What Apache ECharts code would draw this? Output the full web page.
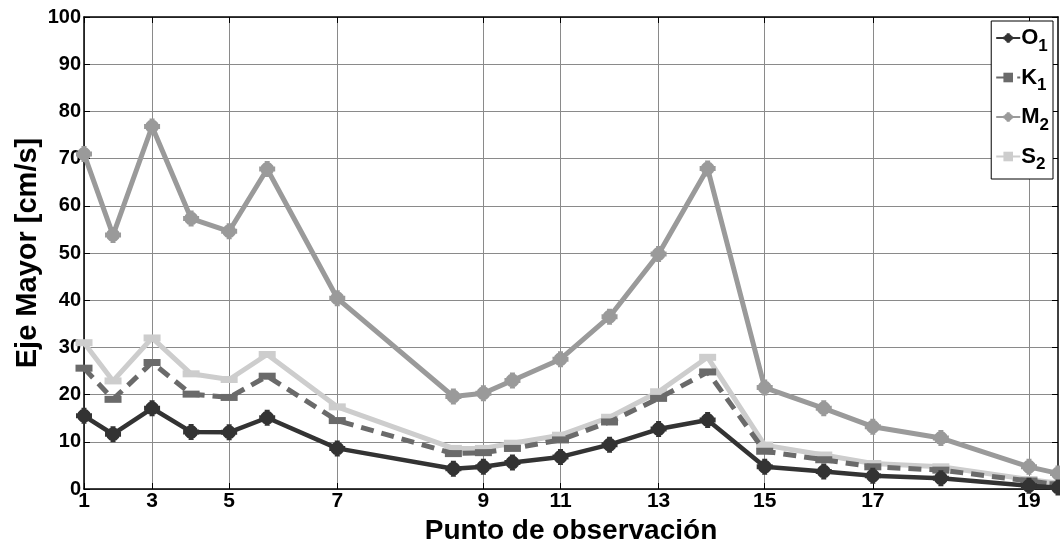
<!DOCTYPE html>
<html>
<head>
<meta charset="utf-8">
<script src="https://cdn.jsdelivr.net/npm/echarts@6/dist/echarts.min.js"></script>
<style>html,body{margin:0;padding:0;background:#fff}#c{width:1060px;height:542px}</style>
</head>
<body>
<div id="c"></div>
<script>
var distancia = [0, 2.9, 6.8, 10.7, 14.5, 18.3, 25.3, 36.9, 39.9, 42.8, 47.6, 52.5, 57.4, 62.3, 68.0, 73.9, 78.8, 85.6, 94.4, 97.3];
var puntos = [1,2,3,4,5,6,7,8,9,10,11,12,13,14,15,16,17,18,19,20];
var etiquetasX = [1,3,5,7,9,11,13,15,17,19];
var ticksY = [0,10,20,30,40,50,60,70,80,90,100];

var O1 = [15.5, 11.6, 17.1, 12.1, 12.0, 15.1, 8.6, 4.3, 4.7, 5.6, 6.8, 9.4, 12.7, 14.6, 4.7, 3.7, 2.8, 2.3, 0.7, 0.3];
var K1 = [25.6, 19.0, 26.8, 20.1, 19.4, 23.9, 14.5, 7.5, 7.7, 8.6, 10.4, 14.2, 19.2, 24.8, 8.0, 6.2, 4.7, 4.0, 1.7, 0.9];
var M2 = [71.0, 53.8, 76.8, 57.3, 54.6, 67.8, 40.4, 19.6, 20.3, 23.0, 27.5, 36.5, 49.8, 67.9, 21.5, 17.1, 13.2, 10.8, 4.7, 3.3];
var S2 = [31.0, 22.9, 32.0, 24.4, 23.2, 28.5, 17.4, 8.6, 8.6, 9.7, 11.4, 15.2, 20.6, 27.9, 9.3, 7.2, 5.4, 4.7, 2.0, 1.2];

function pares(v){ return distancia.map(function(d,i){ return [d, v[i]]; }); }
var tickDist = etiquetasX.map(function(p){ return distancia[puntos.indexOf(p)]; });

var FONT = "'Liberation Sans', Arial, Helvetica, sans-serif";
var starPath = 'path://M-8,-2.5L-2.5,-2.5L-2.5,-8L2.5,-8L2.5,-2.5L8,-2.5L8,2.5L2.5,2.5L2.5,8L-2.5,8L-2.5,2.5L-8,2.5Z M0,-7L3.5,-6L6,-3.5L7,0L6,3.5L3.5,6L0,7L-3.5,6L-6,3.5L-7,0L-6,-3.5L-3.5,-6Z';

var chart = echarts.init(document.getElementById('c'), null, {renderer:'canvas'});
chart.setOption({
  animation: false,
  backgroundColor: '#fff',
  grid: {left: 84, right: 2, top: 17, bottom: 53, containLabel: false, outerBoundsMode: 'none'},
  legend: {
    orient: 'vertical', right: 7, top: 21,
    backgroundColor: '#fff', borderColor: '#000', borderWidth: 1,
    padding: [6, 4, 6, 4], itemGap: 12, itemWidth: 24, itemHeight: 12,
    data: ['O1','K1','M2','S2'],
    formatter: function(n){ return '{b|' + n.charAt(0) + '}{s|' + n.charAt(1) + '}'; },
    textStyle: {
      color: '#000', padding: [0,0,0,-4],
      rich: {
        b: {fontSize: 22, fontWeight: 'bold', fontFamily: FONT, color: '#000'},
        s: {fontSize: 17, fontWeight: 'bold', fontFamily: FONT, color: '#000', padding: [16,0,0,0]}
      }
    }
  },
  xAxis: [{
    type: 'value', min: distancia[0], max: distancia[distancia.length-1],
    name: 'Punto de observación', nameLocation: 'middle', nameGap: 21,
    nameTextStyle: {fontSize: 28, fontWeight: 'bold', fontFamily: FONT, color: '#000'},
    axisLine: {show: true, onZero: false, lineStyle: {color: '#000', width: 1.5}},
    axisTick: {show: true, inside: true, length: 6, customValues: tickDist, lineStyle: {color: '#000'}},
    axisLabel: {customValues: tickDist, margin: 2, fontSize: 21, fontWeight: 'bold', fontFamily: FONT, color: '#000',
      formatter: function(v){ var i = distancia.indexOf(v); return i >= 0 ? String(puntos[i]) : ''; }},
    splitLine: {show: true, lineStyle: {color: '#8a8a8a', width: 1}}
  }, {
    type: 'value', position: 'top', min: distancia[0], max: distancia[distancia.length-1],
    axisLine: {show: true, onZero: false, lineStyle: {color: '#000', width: 1.5}},
    axisTick: {show: true, inside: true, length: 6, customValues: tickDist, lineStyle: {color: '#000'}},
    axisLabel: {show: false}, splitLine: {show: false}
  }],
  yAxis: [{
    type: 'value', min: 0, max: 100, interval: 10,
    name: 'Eje Mayor [cm/s]', nameLocation: 'middle', nameGap: 42, nameMoveOverlap: false,
    nameTextStyle: {fontSize: 29, fontWeight: 'bold', fontFamily: FONT, color: '#000'},
    axisLine: {show: true, onZero: false, lineStyle: {color: '#000', width: 1.5}},
    axisTick: {show: true, inside: true, length: 6, lineStyle: {color: '#000'}},
    axisLabel: {margin: 3, fontSize: 20, fontWeight: 'bold', fontFamily: FONT, color: '#000'},
    splitLine: {show: true, lineStyle: {color: '#8a8a8a', width: 1}}
  }, {
    type: 'value', position: 'right', min: 0, max: 100, interval: 10,
    axisLine: {show: true, onZero: false, lineStyle: {color: '#000', width: 1.5}},
    axisTick: {show: true, inside: true, length: 6, lineStyle: {color: '#000'}},
    axisLabel: {show: false}, splitLine: {show: false}
  }],
  series: [
    {name: 'M2', type: 'line', data: pares(M2), z: 3, symbol: starPath, symbolSize: 16,
      itemStyle: {color: '#9a9a9a'}, lineStyle: {color: '#9a9a9a', width: 5}},
    {name: 'S2', type: 'line', data: pares(S2), z: 4, symbol: 'rect', symbolSize: [17, 7],
      itemStyle: {color: '#cdcdcd'}, lineStyle: {color: '#cdcdcd', width: 5}},
    {name: 'K1', type: 'line', data: pares(K1), z: 5, symbol: 'rect', symbolSize: [17, 7],
      itemStyle: {color: '#6a6a6a'}, lineStyle: {color: '#6a6a6a', width: 5, type: [13, 8]}},
    {name: 'O1', type: 'line', data: pares(O1), z: 6, symbol: starPath, symbolSize: 16,
      itemStyle: {color: '#333333'}, lineStyle: {color: '#333333', width: 4.5}}
  ]
});
</script>
</body>
</html>
